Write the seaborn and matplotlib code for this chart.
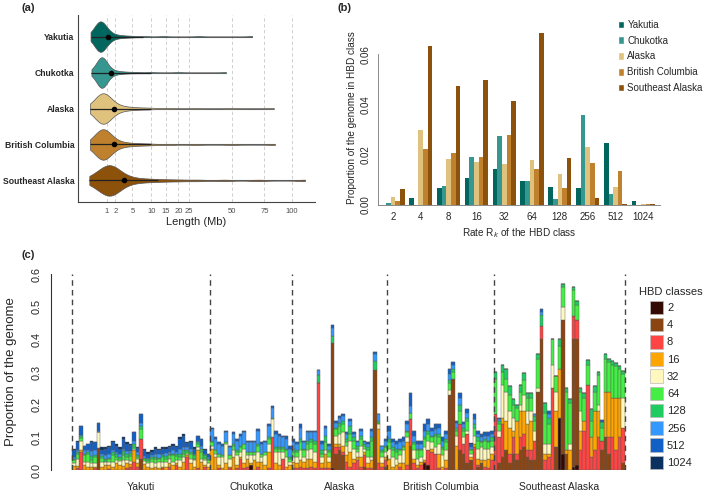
import numpy as np
import pandas as pd
import seaborn as sns
import matplotlib.pyplot as plt
from matplotlib.patches import Patch

# --- shared ---
pops = ['Yakutia', 'Chukotka', 'Alaska', 'British Columbia', 'Southeast Alaska']
pop_colors = ['#01665E', '#35978F', '#DFC27D', '#BF812D', '#8C510A']

# --- (a) HBD segment lengths (Mb), hand-read sample per population ---
len_yakutia = [0.04, 0.1, 0.15, 0.2, 0.24, 0.27, 0.3, 0.32, 0.34, 0.36, 0.37, 0.38, 0.39, 0.4,
               0.41, 0.42, 0.43, 0.44, 0.45, 0.46, 0.47, 0.48, 0.5, 0.52, 0.54, 0.56, 0.58, 0.6,
               0.63, 0.66, 0.7, 0.75, 0.8, 0.88, 0.96, 1.05, 1.2, 1.4, 1.7, 2.1, 2.7, 3.6, 5, 8,
               14, 30, 65]
len_chukotka = [0.06, 0.12, 0.18, 0.24, 0.29, 0.33, 0.37, 0.4, 0.43, 0.45, 0.47, 0.49, 0.5, 0.51,
                0.52, 0.53, 0.54, 0.55, 0.56, 0.57, 0.58, 0.6, 0.62, 0.64, 0.66, 0.69, 0.72, 0.76,
                0.8, 0.86, 0.93, 1.0, 1.1, 1.25, 1.45, 1.75, 2.2, 2.9, 4, 6, 10, 20, 46]
len_alaska = [0.03, 0.09, 0.15, 0.21, 0.27, 0.32, 0.37, 0.41, 0.45, 0.49, 0.52, 0.55, 0.58, 0.6,
              0.62, 0.64, 0.66, 0.68, 0.7, 0.72, 0.75, 0.78, 0.82, 0.86, 0.9, 0.95, 1.0, 1.1, 1.2,
              1.35, 1.5, 1.7, 2.0, 2.4, 3.0, 3.8, 5, 7, 10, 16, 28, 50, 83]
len_bc = [0.03, 0.08, 0.14, 0.2, 0.26, 0.31, 0.36, 0.4, 0.44, 0.48, 0.51, 0.54, 0.57, 0.6, 0.62,
          0.64, 0.66, 0.68, 0.7, 0.72, 0.75, 0.78, 0.82, 0.86, 0.9, 0.95, 1.0, 1.1, 1.2, 1.35,
          1.5, 1.75, 2.05, 2.5, 3.1, 4.0, 5.2, 7.2, 10, 16, 28, 50, 84]
len_se = [0.02, 0.08, 0.15, 0.25, 0.35, 0.45, 0.55, 0.65, 0.75, 0.85, 0.95, 1.0, 1.1, 1.15,
          1.2, 1.25, 1.3, 1.35, 1.4, 1.45, 1.5, 1.6, 1.7, 1.8, 1.95, 2.1, 2.3, 2.6, 3.0, 3.5,
          4.2, 5, 6.5, 8.5, 11, 15, 21, 30, 45, 70, 113]
mean_len = [1.14, 1.43, 1.84, 1.84, 3.34]
range_hi = [7.5, 10, 10, 10, 12]
length_ticks = [1, 2, 5, 10, 15, 20, 25, 50, 75, 100]

# --- (b) mean proportion of genome per HBD class ---
rates = ['2', '4', '8', '16', '32', '64', '128', '256', '512', '1024']
prop_yakutia = [0.0, 0.0027, 0.0068, 0.0109, 0.0142, 0.0095, 0.0072, 0.0066, 0.0248, 0.0015]
prop_chukotka = [0.0008, 0.0, 0.0076, 0.0192, 0.0273, 0.0096, 0.0023, 0.0358, 0.0042, 0.0]
prop_alaska = [0.0030, 0.0299, 0.0182, 0.0170, 0.0165, 0.0179, 0.0125, 0.0230, 0.0073, 0.0004]
prop_bc = [0.0015, 0.0224, 0.0207, 0.0192, 0.0280, 0.0142, 0.0069, 0.0167, 0.0134, 0.0004]
prop_se = [0.0063, 0.0633, 0.0474, 0.0498, 0.0413, 0.0686, 0.0186, 0.0027, 0.0005, 0.0003]

# --- (c) per-individual proportions (x 1/1000), classes 2..1024 ---
hbd_classes = ['2', '4', '8', '16', '32', '64', '128', '256', '512', '1024']
class_colors = ['#330A04', '#8B4513', '#FF4444', '#FFA500', '#FFF8BE',
                '#44EE44', '#20CC60', '#3399FF', '#1060C8', '#0A3060']
group_names = ['Yakuti', 'Chukotka', 'Alaska', 'British Columbia', 'Southeast Alaska']

yakuti_rows = [
    [0, 0, 0, 12, 8, 10, 5, 6, 20, 4], [0, 0, 5, 8, 20, 15, 6, 8, 25, 3],
    [0, 0, 55, 5, 30, 8, 5, 5, 27, 0], [0, 0, 0, 15, 10, 20, 5, 10, 12, 3],
    [0, 0, 0, 8, 15, 25, 8, 4, 20, 0], [0, 0, 0, 10, 12, 10, 10, 15, 28, 5],
    [0, 0, 5, 5, 10, 20, 5, 15, 25, 0], [0, 67, 0, 0, 48, 0, 0, 5, 25, 0],
    [0, 0, 0, 10, 15, 12, 5, 8, 12, 8], [0, 0, 0, 15, 8, 5, 7, 10, 20, 5],
    [0, 0, 3, 12, 10, 8, 5, 12, 20, 5], [0, 0, 0, 8, 18, 20, 8, 6, 25, 5],
    [0, 0, 0, 20, 10, 10, 8, 7, 20, 5], [0, 0, 0, 15, 12, 8, 5, 8, 17, 5],
    [0, 0, 0, 12, 20, 15, 10, 8, 30, 5], [0, 0, 5, 15, 10, 10, 8, 10, 22, 5],
    [0, 0, 10, 8, 10, 15, 10, 5, 20, 2], [0, 0, 25, 35, 5, 5, 10, 10, 25, 0],
    [0, 0, 8, 12, 15, 5, 5, 10, 12, 3], [0, 35, 60, 0, 0, 30, 10, 10, 25, 0],
    [0, 0, 0, 18, 10, 5, 5, 5, 17, 5], [0, 0, 0, 10, 10, 8, 5, 5, 12, 5],
    [0, 0, 0, 5, 20, 10, 5, 5, 10, 5], [0, 0, 0, 8, 12, 15, 5, 10, 15, 5],
    [0, 0, 0, 5, 20, 8, 5, 10, 12, 5], [0, 0, 5, 5, 15, 15, 5, 5, 15, 5],
    [0, 0, 0, 10, 15, 10, 8, 10, 12, 5], [0, 0, 10, 10, 15, 10, 5, 5, 15, 5],
    [0, 0, 0, 15, 10, 20, 5, 10, 15, 5], [0, 0, 15, 5, 12, 10, 8, 5, 15, 5],
    [0, 0, 0, 10, 20, 10, 10, 15, 30, 5], [0, 0, 0, 25, 15, 10, 10, 10, 35, 5],
    [0, 0, 40, 5, 5, 5, 5, 10, 12, 3], [0, 0, 0, 20, 15, 15, 5, 10, 20, 5],
    [0, 0, 0, 10, 20, 5, 10, 5, 15, 5], [0, 0, 5, 55, 10, 10, 5, 5, 15, 0],
    [0, 0, 0, 25, 10, 20, 10, 10, 20, 0], [0, 0, 10, 5, 15, 8, 7, 5, 12, 3],
    [0, 0, 0, 10, 10, 10, 5, 5, 8, 2],
]
chukotka_rows = [
    [0, 0, 0, 65, 10, 10, 5, 35, 5, 0], [0, 0, 0, 40, 10, 10, 0, 35, 5, 0],
    [0, 0, 5, 10, 25, 10, 0, 30, 5, 0], [0, 0, 0, 5, 35, 5, 0, 30, 5, 0],
    [0, 0, 0, 20, 60, 5, 0, 30, 5, 0], [0, 0, 5, 5, 25, 10, 0, 25, 5, 0],
    [0, 0, 0, 40, 20, 15, 5, 30, 5, 0], [0, 0, 5, 10, 30, 10, 5, 30, 5, 0],
    [0, 0, 35, 5, 15, 15, 5, 30, 5, 0], [0, 0, 5, 15, 45, 15, 0, 35, 5, 0],
    [0, 0, 10, 25, 10, 10, 0, 30, 5, 0], [15, 0, 0, 5, 25, 10, 0, 30, 5, 0],
    [0, 0, 0, 30, 15, 10, 0, 30, 5, 0], [0, 0, 10, 15, 30, 20, 5, 40, 5, 0],
    [0, 0, 0, 25, 15, 10, 0, 30, 5, 0], [0, 0, 0, 15, 30, 10, 0, 30, 5, 0],
    [0, 0, 5, 50, 25, 15, 5, 35, 5, 0], [0, 0, 100, 0, 55, 5, 0, 30, 5, 0],
    [0, 0, 0, 20, 35, 10, 5, 40, 10, 0], [0, 0, 0, 15, 40, 10, 5, 35, 5, 0],
    [0, 0, 35, 0, 20, 10, 5, 30, 5, 0], [0, 0, 0, 10, 30, 20, 5, 30, 10, 0],
    [0, 0, 0, 15, 10, 10, 5, 25, 10, 0],
]
alaska_rows = [
    [0, 0, 5, 20, 15, 15, 10, 20, 10, 0], [0, 0, 5, 15, 20, 15, 5, 20, 5, 0],
    [0, 0, 10, 20, 30, 25, 10, 35, 10, 0], [0, 0, 5, 20, 15, 20, 5, 20, 5, 0],
    [0, 0, 5, 30, 25, 20, 10, 25, 5, 0], [0, 0, 10, 25, 30, 20, 10, 20, 5, 0],
    [0, 0, 5, 20, 30, 25, 10, 25, 5, 0], [0, 0, 265, 0, 0, 5, 20, 15, 0, 0],
    [0, 0, 5, 15, 20, 10, 10, 20, 10, 0], [0, 0, 5, 45, 10, 25, 20, 25, 5, 0],
    [0, 0, 5, 20, 15, 15, 5, 15, 5, 0], [5, 385, 0, 0, 0, 0, 20, 25, 10, 0],
    [0, 50, 20, 10, 25, 20, 5, 15, 5, 0], [0, 60, 10, 10, 30, 25, 10, 15, 5, 0],
    [0, 45, 10, 20, 40, 25, 10, 15, 5, 0], [0, 0, 25, 20, 30, 10, 10, 15, 5, 0],
    [0, 0, 10, 45, 35, 20, 25, 15, 5, 0], [0, 0, 20, 15, 30, 25, 10, 10, 5, 0],
    [0, 0, 30, 10, 15, 10, 10, 10, 5, 0], [0, 0, 10, 30, 35, 20, 10, 15, 7, 0],
    [0, 10, 35, 10, 10, 10, 5, 5, 5, 0], [0, 0, 5, 15, 20, 20, 10, 10, 5, 0],
    [0, 0, 5, 25, 10, 50, 10, 20, 7, 0], [0, 305, 0, 0, 0, 0, 30, 20, 5, 0],
    [0, 0, 20, 105, 15, 5, 5, 20, 0, 0], [0, 0, 10, 10, 20, 15, 5, 15, 0, 0],
    [0, 10, 20, 10, 15, 15, 5, 15, 5, 0],
]
bc_rows = [
    [0, 0, 0, 35, 30, 20, 10, 25, 15, 0], [0, 0, 0, 10, 30, 20, 10, 15, 10, 0],
    [0, 0, 0, 15, 20, 20, 10, 15, 10, 0], [0, 0, 10, 10, 25, 15, 5, 20, 10, 0],
    [0, 0, 0, 20, 40, 10, 5, 15, 10, 0], [0, 0, 15, 70, 15, 15, 5, 20, 10, 0],
    [0, 75, 80, 0, 0, 20, 0, 20, 40, 0], [0, 0, 20, 15, 25, 20, 5, 20, 15, 0],
    [0, 0, 5, 10, 20, 25, 5, 15, 10, 0], [0, 0, 15, 10, 15, 20, 5, 15, 10, 0],
    [20, 0, 5, 5, 40, 25, 5, 20, 20, 0], [15, 0, 45, 0, 30, 20, 10, 20, 15, 0],
    [0, 0, 55, 10, 20, 15, 5, 15, 10, 0], [0, 0, 50, 0, 20, 35, 5, 15, 15, 0],
    [0, 0, 5, 45, 30, 20, 10, 20, 10, 0], [0, 0, 0, 10, 35, 20, 5, 20, 10, 0],
    [0, 0, 5, 25, 30, 25, 10, 15, 10, 0], [0, 230, 0, 0, 15, 20, 10, 20, 15, 0],
    [0, 280, 0, 0, 0, 20, 10, 10, 10, 0], [0, 0, 0, 75, 30, 15, 10, 15, 5, 0],
    [0, 60, 80, 0, 0, 40, 20, 20, 17, 0], [0, 50, 30, 0, 20, 20, 10, 10, 7, 0],
    [0, 20, 90, 0, 10, 30, 10, 15, 11, 0], [0, 30, 0, 10, 10, 10, 5, 5, 10, 4],
    [0, 0, 70, 10, 25, 25, 10, 15, 15, 0], [0, 10, 5, 20, 30, 25, 10, 10, 10, 0],
    [0, 20, 0, 10, 40, 15, 5, 10, 10, 0], [0, 0, 10, 20, 35, 25, 5, 10, 10, 0],
    [0, 0, 5, 30, 30, 20, 5, 15, 12, 0], [0, 0, 30, 20, 20, 20, 10, 10, 10, 0],
]
se_rows = [
    [0, 0, 170, 0, 0, 110, 20, 0, 0, 0], [0, 20, 80, 0, 20, 20, 10, 5, 5, 0],
    [0, 40, 100, 20, 100, 40, 20, 0, 0, 0], [0, 60, 0, 90, 90, 40, 30, 0, 0, 0],
    [0, 20, 30, 80, 50, 50, 27, 0, 0, 0], [0, 50, 50, 20, 40, 40, 16, 0, 0, 0],
    [0, 30, 20, 100, 0, 40, 10, 0, 0, 0], [0, 60, 40, 80, 20, 40, 20, 0, 0, 0],
    [0, 70, 40, 70, 50, 46, 20, 0, 0, 0], [0, 40, 20, 80, 40, 40, 17, 0, 0, 0],
    [0, 30, 30, 90, 30, 40, 17, 0, 0, 0], [0, 30, 60, 0, 30, 30, 15, 5, 0, 0],
    [0, 240, 0, 0, 10, 90, 14, 0, 0, 0], [0, 400, 40, 0, 0, 0, 34, 10, 10, 0],
    [0, 0, 30, 20, 30, 96, 30, 0, 0, 0], [0, 0, 40, 10, 30, 60, 20, 10, 10, 0],
    [0, 0, 250, 0, 70, 80, 0, 0, 0, 0], [0, 70, 0, 110, 60, 48, 0, 0, 0, 0],
    [160, 0, 0, 150, 0, 70, 20, 0, 0, 0], [50, 410, 0, 0, 40, 60, 10, 0, 0, 0],
    [0, 50, 0, 10, 0, 180, 10, 0, 0, 0], [0, 0, 0, 60, 20, 126, 10, 0, 0, 0],
    [10, 390, 70, 0, 0, 80, 10, 0, 0, 0], [15, 385, 60, 0, 0, 46, 10, 0, 0, 0],
    [0, 0, 60, 60, 60, 60, 10, 0, 0, 0], [0, 0, 120, 30, 0, 70, 15, 0, 0, 0],
    [0, 0, 260, 0, 0, 60, 16, 0, 0, 0], [0, 0, 40, 60, 0, 50, 36, 0, 0, 0],
    [0, 0, 60, 120, 0, 60, 17, 0, 0, 0], [0, 0, 100, 80, 20, 90, 10, 0, 0, 0],
    [0, 60, 30, 0, 0, 40, 17, 0, 5, 0], [0, 100, 0, 140, 0, 100, 16, 0, 0, 0],
    [0, 50, 50, 140, 0, 90, 10, 0, 0, 0], [0, 0, 100, 120, 0, 100, 13, 0, 0, 0],
    [0, 0, 60, 160, 0, 98, 10, 0, 0, 0], [0, 0, 100, 120, 0, 88, 10, 0, 0, 0],
    [0, 20, 110, 0, 90, 73, 10, 0, 0, 0],
]

# --- figure setup ---
sns.set_theme(style='white')
plt.rcParams['font.family'] = ['Liberation Sans', 'DejaVu Sans']
W, H = 709, 496
fig = plt.figure(figsize=(W / 100, H / 100), dpi=100)


def rect(left, top, right, bottom):
    return [left / W, 1 - bottom / H, (right - left) / W, (bottom - top) / H]


ax_a = fig.add_axes(rect(78, 15, 315, 202))
ax_b = fig.add_axes(rect(377.7, 29.3, 660, 205))
ax_c = fig.add_axes(rect(51, 274, 630, 470))

# --- (a) violins on a square-root length axis ---
lens = [len_yakutia, len_chukotka, len_alaska, len_bc, len_se]
df_a = pd.DataFrame({'pop': np.repeat(pops, [len(v) for v in lens]),
                     'length': np.concatenate(lens)})
df_a['sqrt_len'] = np.sqrt(df_a['length'])
pos = np.arange(len(pops))
mins = np.sqrt([min(v) for v in lens])
maxs = np.sqrt([max(v) for v in lens])

ax_a.hlines(pos, mins, maxs, color='#8a8a8a', lw=0.8, zorder=1)
sns.violinplot(data=df_a, x='sqrt_len', y='pop', hue='pop', order=pops, hue_order=pops,
               palette=pop_colors, orient='h', cut=0, inner=None, density_norm='width',
               bw_adjust=0.4, width=0.85, linewidth=0.5, linecolor='#555555',
               saturation=1, legend=False, ax=ax_a)
ax_a.hlines(pos, mins, np.sqrt(range_hi), color='#222222', lw=0.9, zorder=3)
ax_a.scatter(np.sqrt(mean_len), pos, color='black', s=9, zorder=4)

ax_a.set_xlim(-0.41, 11.12)
ax_a.set_ylim(4.6, -0.6)
ax_a.set_xticks(np.sqrt(length_ticks), [str(t) for t in length_ticks])
ax_a.grid(axis='x', ls=(0, (4, 3)), color='#c8c8c8', lw=0.6)
ax_a.set_axisbelow(True)
ax_a.set_xlabel('Length (Mb)', fontsize=8, labelpad=2)
ax_a.set_ylabel('')
ax_a.tick_params(axis='x', labelsize=5.5, labelcolor='#4d4d4d', length=2, width=0.5, pad=2)
ax_a.tick_params(axis='y', labelsize=6.2, length=1.5, width=0.5, pad=1)
plt.setp(ax_a.get_yticklabels(), fontweight='bold')
for s in ['top', 'right']:
    ax_a.spines[s].set_visible(False)
for s in ['left', 'bottom']:
    ax_a.spines[s].set_color('#444444')
    ax_a.spines[s].set_linewidth(0.8)

# --- (b) grouped bars ---
props = [prop_yakutia, prop_chukotka, prop_alaska, prop_bc, prop_se]
df_b = pd.DataFrame({'rate': np.tile(rates, len(pops)),
                     'pop': np.repeat(pops, len(rates)),
                     'prop': np.concatenate(props)})
sns.barplot(data=df_b, x='rate', y='prop', hue='pop', order=rates, hue_order=pops,
            palette=pop_colors, width=5 / 6, gap=0, saturation=1, errorbar=None,
            linewidth=0, legend=False, ax=ax_b)
ax_b.set_xlim(-0.55, 9.6)
ax_b.set_ylim(0, 0.07)
ax_b.set_yticks(np.arange(0, 0.061, 0.01), ['0.00', '', '0.02', '', '0.04', '', '0.06'])
plt.setp(ax_b.get_yticklabels(), rotation=90, va='center')
ax_b.tick_params(axis='y', labelsize=7, length=3, width=0.5, color='#555555', pad=2)
ax_b.tick_params(axis='x', labelsize=7, length=0, pad=5)
ax_b.set_xlabel('Rate R$_k$ of the HBD class', fontsize=7.2, labelpad=3)
ax_b.set_ylabel('Proportion of the genome in HBD class', fontsize=7.2, labelpad=3)
ax_b.spines['left'].set_bounds(0, 0.06)
for s in ['top', 'right']:
    ax_b.spines[s].set_visible(False)
for s in ['left', 'bottom']:
    ax_b.spines[s].set_color('#777777')
    ax_b.spines[s].set_linewidth(0.6)
ax_b.legend(handles=[Patch(facecolor=c, label=p) for p, c in zip(pops, pop_colors)],
            loc='upper left', bbox_to_anchor=(609 / W, 1 - 11 / H),
            bbox_transform=fig.transFigure, frameon=False, fontsize=7.0,
            handlelength=0.6, handleheight=0.8, handletextpad=0.4, labelspacing=0.6)

# --- (c) stacked bars per individual ---
groups = [yakuti_rows, chukotka_rows, alaska_rows, bc_rows, se_rows]
records = []
ind = 0
for rows in groups:
    for r in rows:
        for cls, v in zip(hbd_classes, r):
            records.append((ind, cls, v / 1000))
        ind += 1
df_c = pd.DataFrame(records, columns=['ind', 'cls', 'prop'])
# histplot puts the first hue level on top of the stack, so class 1024 goes first
sns.histplot(data=df_c, x='ind', weights='prop', hue='cls',
             hue_order=hbd_classes[::-1], palette=class_colors[::-1],
             multiple='stack', discrete=True, shrink=1, alpha=1,
             edgecolor='#5a5a5a', linewidth=0.3, legend=False, ax=ax_c)

counts = [len(g) for g in groups]
bounds = np.concatenate([[0], np.cumsum(counts)]) - 0.5
ax_c.vlines(bounds, 0, 0.6, colors='#444444', linestyles=(0, (4, 3)), lw=1.0)
ax_c.set_xlim(-6.42, 156.91)
ax_c.set_ylim(0, 0.6)
ax_c.set_xticks((bounds[:-1] + bounds[1:]) / 2, group_names)
ax_c.tick_params(axis='x', labelsize=7.5, length=0, pad=9)
ax_c.set_yticks(np.arange(0, 0.61, 0.1), [f'{v:.1f}' for v in np.arange(0, 0.61, 0.1)])
plt.setp(ax_c.get_yticklabels(), rotation=90, va='center')
ax_c.tick_params(axis='y', labelsize=7.8, length=4, width=0.6, color='#333333', pad=3)
ax_c.set_xlabel('')
ax_c.set_ylabel('Proportion of the genome', fontsize=9.5)
ax_c.yaxis.set_label_coords(-0.059, 0.5)
for s in ['top', 'right', 'bottom']:
    ax_c.spines[s].set_visible(False)
ax_c.spines['left'].set_color('#333333')
ax_c.spines['left'].set_linewidth(0.8)

fig.legend(handles=[Patch(facecolor=c, edgecolor='#bbbbbb', lw=0.5, label=l)
                    for l, c in zip(hbd_classes, class_colors)],
           title='HBD classes', loc='upper left', bbox_to_anchor=(630 / W, 1 - 278 / H),
           frameon=False, fontsize=8.0, title_fontsize=8.0, handlelength=1.2,
           handleheight=1.5, labelspacing=0.33, handletextpad=0.35, borderpad=0.3)

# panel letters
for x, y, t in [(22, 8, '(a)'), (337, 8, '(b)'), (22, 255, '(c)')]:
    fig.text(x / W, 1 - y / H, t, fontsize=8, fontweight='bold', va='center')

fig.savefig('out.png', dpi=100)
